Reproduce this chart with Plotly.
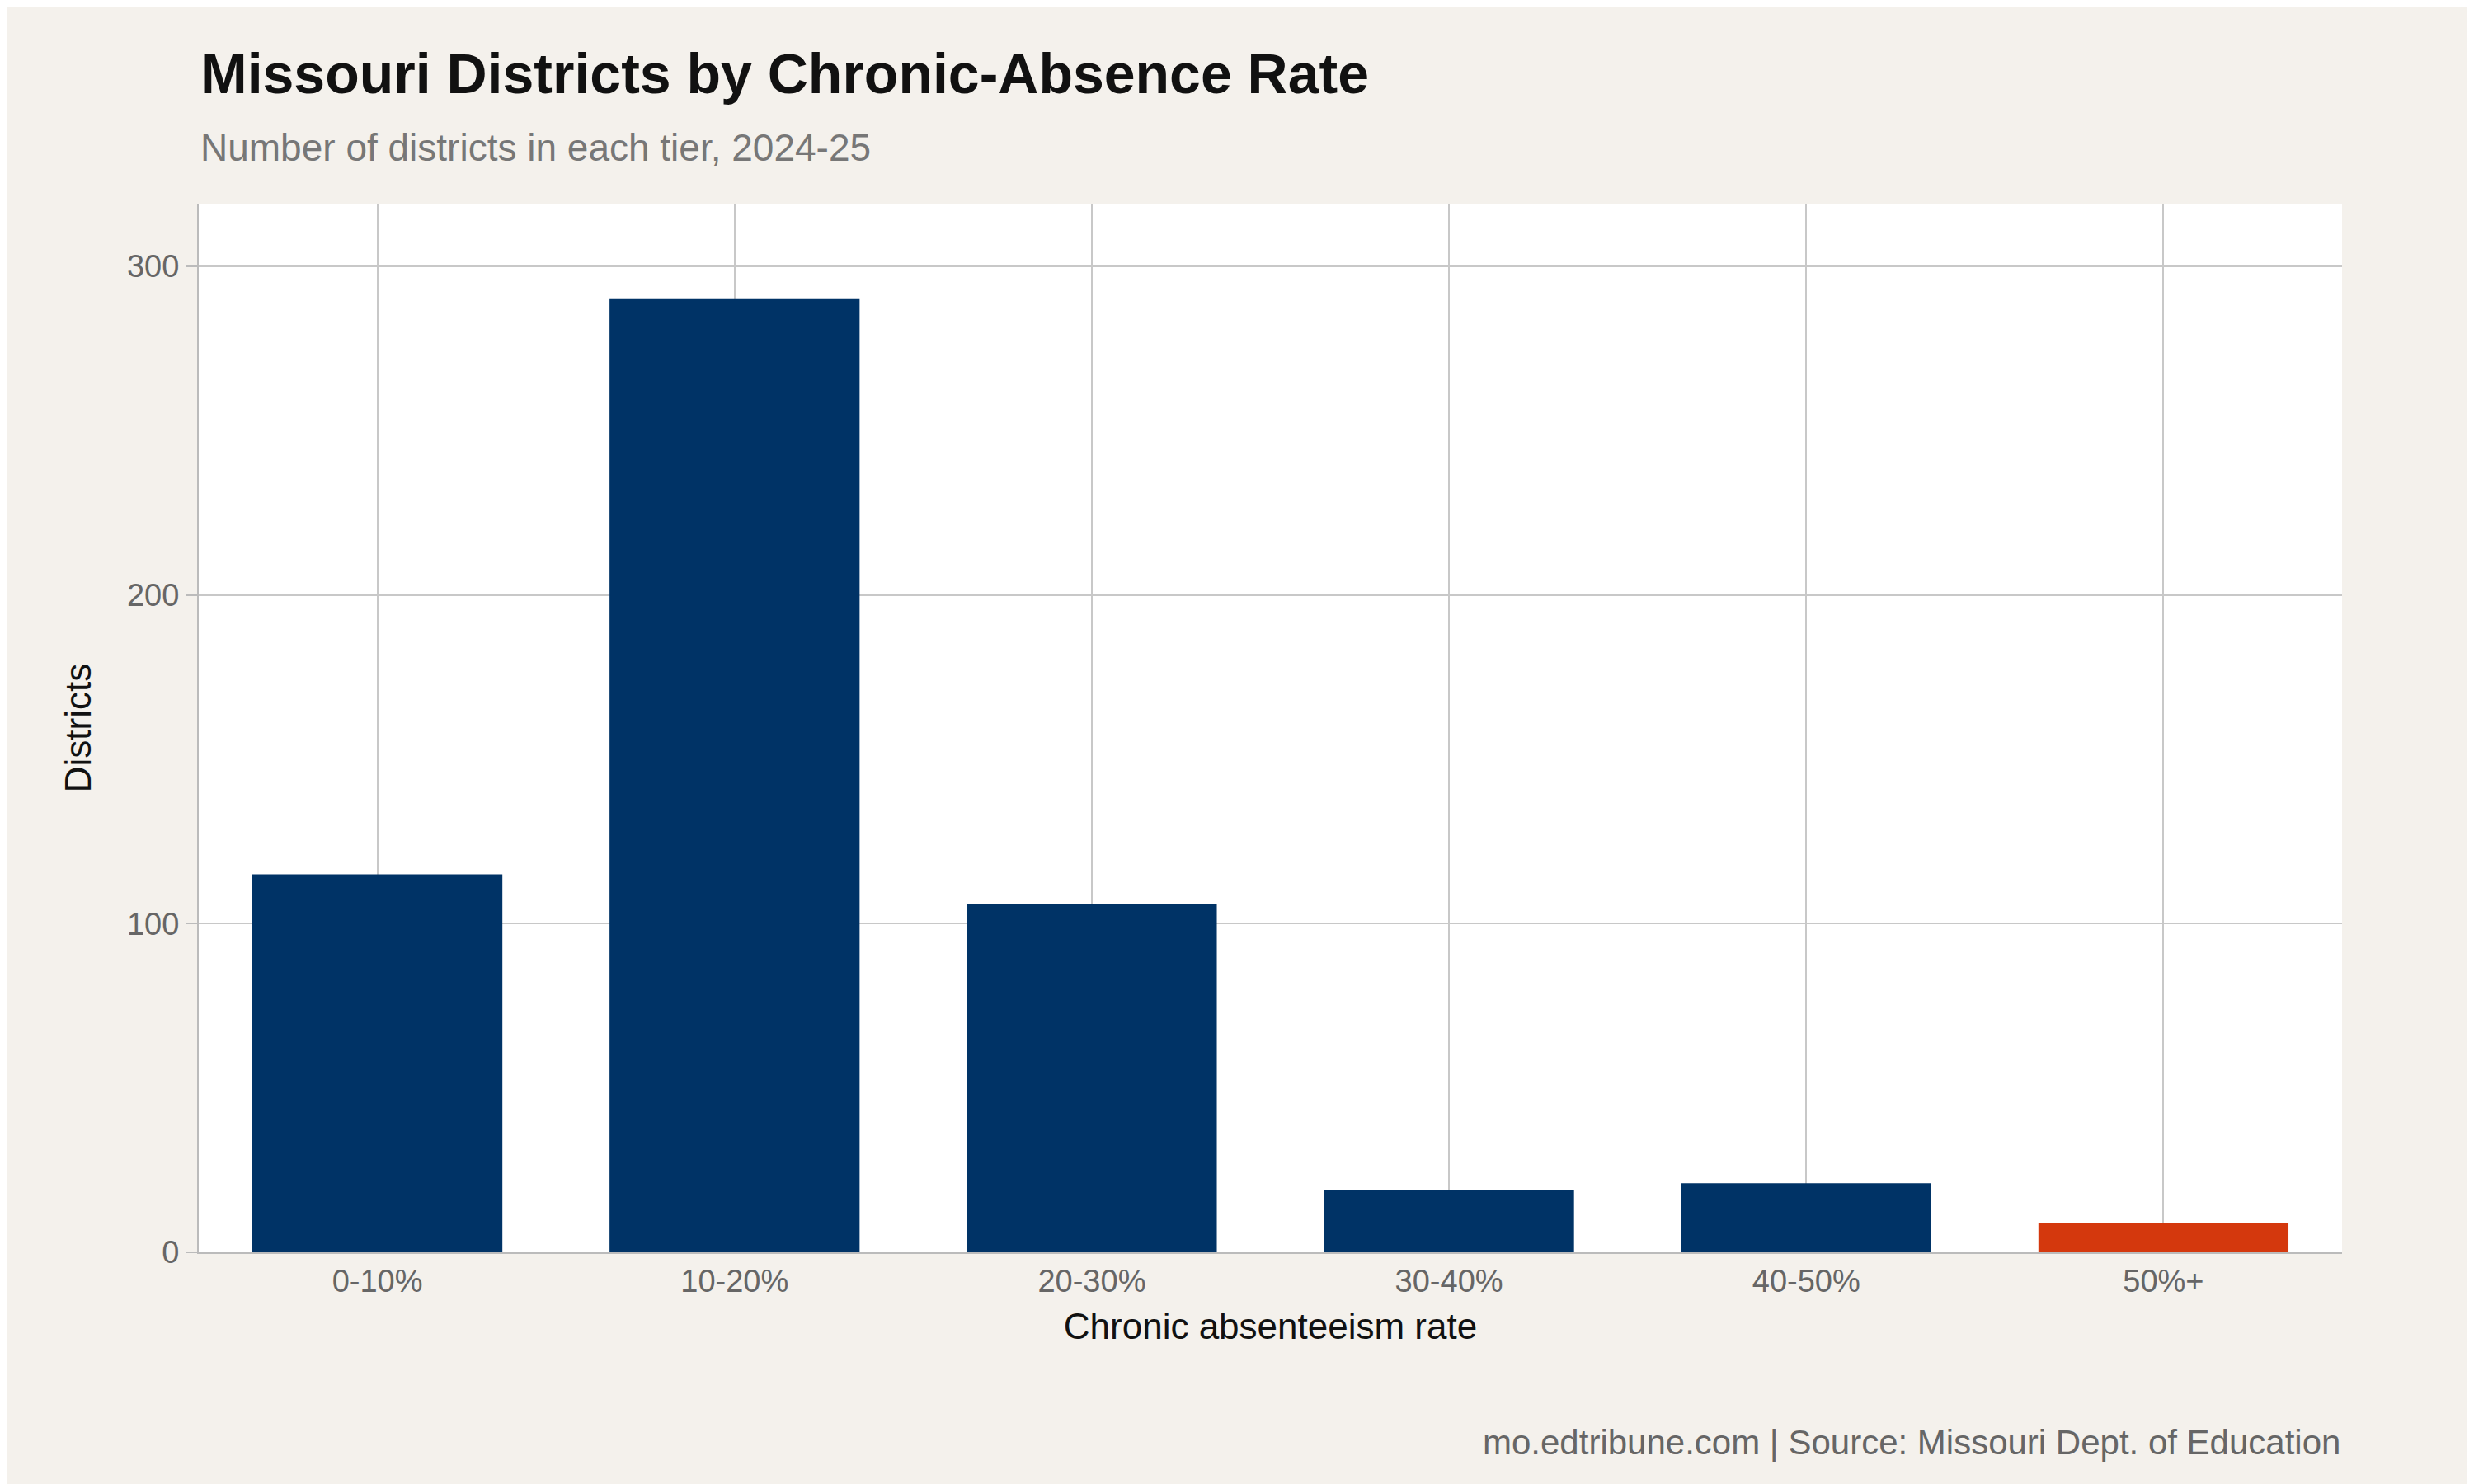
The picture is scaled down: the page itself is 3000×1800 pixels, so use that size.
import plotly.graph_objects as go

categories = ["0-10%", "10-20%", "20-30%", "30-40%", "40-50%", "50%+"]
districts = [115, 290, 106, 19, 21, 9]
bar_colors = ["#003366", "#003366", "#003366", "#003366", "#003366", "#D4380D"]

F = "Liberation Sans"
fig = go.Figure(go.Bar(x=categories, y=districts, marker_color=bar_colors, width=0.7, marker_line_width=0))
fig.update_layout(
    width=3000, height=1800,
    paper_bgcolor="#F4F1EC", plot_bgcolor="white",
    margin=dict(l=233, r=168, t=239, b=289),
    font=dict(family=F, size=38, color="#666666"),
    showlegend=False,
    annotations=[
        dict(text="<b>Missouri Districts by Chronic-Absence Rate</b>", xref="paper", yref="paper",
             x=0.0, y=1.0, xanchor="left", yanchor="bottom", yshift=118, showarrow=False,
             font=dict(family=F, size=68, color="#111111")),
        dict(text="Number of districts in each tier, 2024-25", xref="paper", yref="paper",
             x=0.0, y=1.0, xanchor="left", yanchor="bottom", yshift=40, showarrow=False,
             font=dict(family=F, size=46, color="#777777")),
        dict(text="mo.edtribune.com | Source: Missouri Dept. of Education", xref="paper", yref="paper",
             x=1.0, y=0.0, xanchor="right", yanchor="top", yshift=-205, showarrow=False,
             font=dict(family=F, size=42, color="#666666")),
    ],
)
fig.update_xaxes(showgrid=True, gridcolor="#C8C8C8", gridwidth=2, showline=True, linecolor="#BBBBBB", linewidth=2,
                 ticks="", tickfont=dict(size=38, color="#666666"),
                 title=dict(text="Chronic absenteeism rate", font=dict(size=44, color="#111111"), standoff=20))
fig.update_yaxes(range=[0, 319], tickvals=[0, 100, 200, 300], showgrid=True, gridcolor="#C8C8C8", gridwidth=2,
                 showline=True, linecolor="#BBBBBB", linewidth=2, zeroline=False, ticks="outside", ticklen=14,
                 tickcolor="#BBBBBB", tickwidth=2, tickfont=dict(size=38, color="#666666"),
                 title=dict(text="Districts", font=dict(size=44, color="#111111"), standoff=30))
fig.write_html("out.html")
